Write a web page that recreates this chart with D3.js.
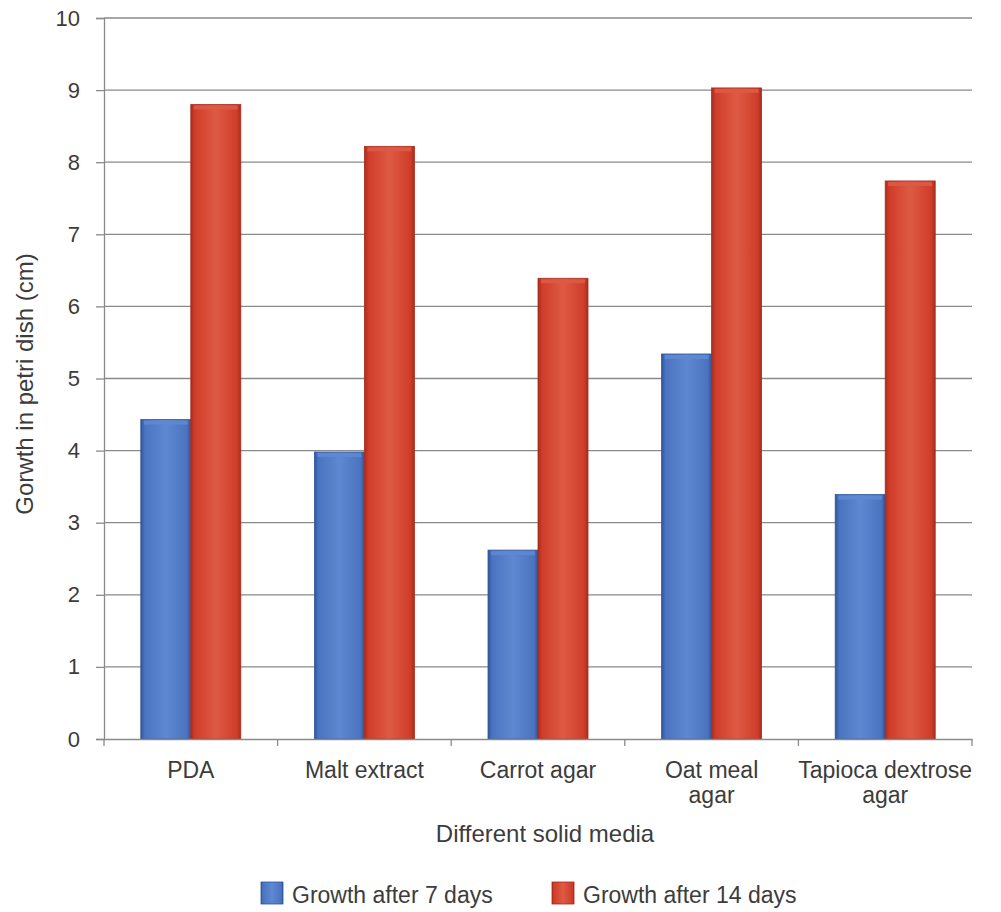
<!DOCTYPE html>
<html>
<head>
<meta charset="utf-8">
<script src="https://cdn.jsdelivr.net/npm/d3@7"></script>
<style>
  body { margin: 0; background: #fff; }
  svg { display: block; font-family: "Liberation Sans", Arial, sans-serif; }
</style>
</head>
<body>
<svg id="chart" width="1001" height="912"></svg>
<script>
const categories = ["PDA", "Malt extract", "Carrot agar", "Oat meal agar", "Tapioca dextrose agar"];
const categoryLines = [["PDA"], ["Malt extract"], ["Carrot agar"], ["Oat meal", "agar"], ["Tapioca dextrose", "agar"]];
const seriesNames = ["Growth after 7 days", "Growth after 14 days"];
const growth7 = [4.43, 3.98, 2.62, 5.34, 3.39];
const growth14 = [8.80, 8.22, 6.39, 9.03, 7.74];
const yTicks = [0, 1, 2, 3, 4, 5, 6, 7, 8, 9, 10];
const yTitle = "Gorwth in petri dish (cm)";
const xTitle = "Different solid media";

const colors = [
  { base: "#4a74c0", light: "#5f88d2", dark: "#2f559c" },
  { base: "#cf3d2a", light: "#de5a44", dark: "#a82c1c" }
];
const textColor = "#3c3c3c";

const svg = d3.select("#chart");
const margin = { left: 104, right: 29, top: 18, bottom: 173 };
const W = 1001, H = 912;
const x0 = d3.scaleBand().domain(categories).range([margin.left, W - margin.right]).paddingInner(0).paddingOuter(0);
const x1 = d3.scaleBand().domain(seriesNames).range([0, 100]);
const y = d3.scaleLinear().domain([0, 10]).range([H - margin.bottom, margin.top]);

const defs = svg.append("defs");
colors.forEach((c, i) => {
  const g = defs.append("linearGradient").attr("id", "grad" + i).attr("x1", "0").attr("x2", "1").attr("y1", "0").attr("y2", "0");
  g.append("stop").attr("offset", "0%").attr("stop-color", c.dark);
  g.append("stop").attr("offset", "8%").attr("stop-color", c.base);
  g.append("stop").attr("offset", "50%").attr("stop-color", c.light);
  g.append("stop").attr("offset", "92%").attr("stop-color", c.base);
  g.append("stop").attr("offset", "100%").attr("stop-color", c.dark);
});

// gridlines
svg.append("g").selectAll("line").data(yTicks.slice(1)).join("line")
  .attr("x1", margin.left).attr("x2", W - margin.right)
  .attr("y1", d => y(d)).attr("y2", d => y(d))
  .attr("stroke", "#8a8a8a").attr("stroke-width", 1.3);

// bars
const data = [growth7, growth14];
const groups = svg.append("g").selectAll("g").data(categories).join("g")
  .attr("transform", d => `translate(${x0(d) + (x0.bandwidth() - 100) / 2},0)`);
groups.each(function(cat, ci) {
  const g = d3.select(this);
  seriesNames.forEach((s, si) => {
    const v = data[si][ci];
    const bx = x1(s), bw = x1.bandwidth();
    g.append("rect").attr("x", bx).attr("y", y(v)).attr("width", bw).attr("height", y(0) - y(v))
      .attr("fill", `url(#grad${si})`);
    g.append("rect").attr("x", bx + 3).attr("y", y(v) + 1).attr("width", bw - 6).attr("height", 4)
      .attr("fill", colors[si].light).attr("opacity", 0.9);
    g.append("rect").attr("x", bx).attr("y", y(v)).attr("width", bw).attr("height", y(0) - y(v))
      .attr("fill", "none").attr("stroke", colors[si].dark).attr("stroke-width", 0.8);
  });
});

// y axis
const yAxis = svg.append("g").attr("transform", `translate(${margin.left},0)`)
  .call(d3.axisLeft(y).tickValues(yTicks).tickSize(8).tickPadding(16));
yAxis.select(".domain").attr("stroke", "#8a8a8a").attr("stroke-width", 1.3);
yAxis.selectAll(".tick line").attr("stroke", "#8a8a8a").attr("stroke-width", 1.3);
yAxis.selectAll(".tick text").attr("fill", textColor).style("font-size", "22px");

// x axis
const xAxis = svg.append("g").attr("transform", `translate(0,${y(0)})`)
  .call(d3.axisBottom(x0).tickSize(0).tickFormat(""));
xAxis.select(".domain").attr("stroke", "#8a8a8a").attr("stroke-width", 1.3);
svg.append("g").selectAll("line").data(d3.range(categories.length + 1)).join("line")
  .attr("x1", i => margin.left + i * x0.bandwidth()).attr("x2", i => margin.left + i * x0.bandwidth())
  .attr("y1", y(0)).attr("y2", y(0) + 7)
  .attr("stroke", "#8a8a8a").attr("stroke-width", 1.3);

const lbl = svg.append("g").selectAll("text").data(categories).join("text")
  .attr("x", d => x0(d) + x0.bandwidth() / 2)
  .attr("y", 778)
  .attr("text-anchor", "middle").attr("fill", textColor).style("font-size", "23px");
lbl.each(function(d, i) {
  const t = d3.select(this);
  categoryLines[i].forEach((line, li) => {
    t.append("tspan").attr("x", x0(d) + x0.bandwidth() / 2).attr("dy", li === 0 ? 0 : 25).text(line);
  });
});

// axis titles
svg.append("text").attr("x", 545).attr("y", 842).attr("text-anchor", "middle")
  .attr("fill", textColor).style("font-size", "24px").text(xTitle);
svg.append("text").attr("transform", `translate(33,384) rotate(-90)`)
  .attr("text-anchor", "middle").attr("fill", textColor).style("font-size", "24px").text(yTitle);

// legend
const legendX = [261, 552];
const leg = svg.append("g").selectAll("g").data(seriesNames).join("g")
  .attr("transform", (d, i) => `translate(${legendX[i]},882)`);
leg.append("rect").attr("width", 22).attr("height", 22).attr("fill", (d, i) => `url(#grad${i})`)
  .attr("stroke", (d, i) => colors[i].dark).attr("stroke-width", 0.8);
leg.append("text").attr("x", 31).attr("y", 21).attr("fill", textColor).style("font-size", "23px").text(d => d);
</script>
</body>
</html>
